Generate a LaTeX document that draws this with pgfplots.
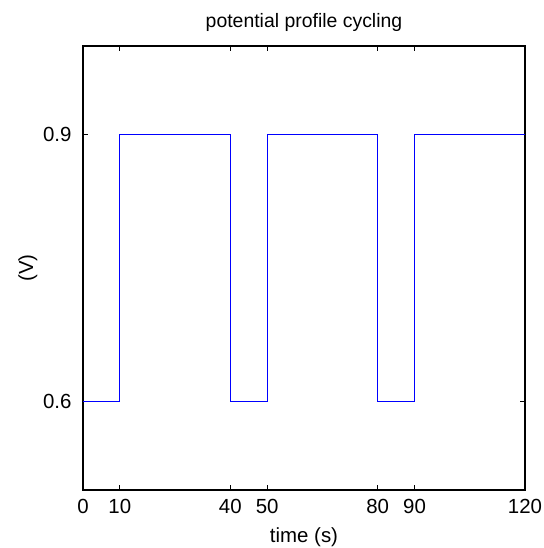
\documentclass[border=0pt]{standalone}
\usepackage{pgfplots}
\pgfplotsset{compat=1.18}
\usepackage{fontspec}
\setmainfont{Liberation Sans}
\begin{document}
\begin{tikzpicture}[x=1bp,y=1bp]
\path[use as bounding box] (0,0) rectangle (544,548);
\begin{axis}[
  at={(83bp,58bp)}, anchor=south west,
  scale only axis, width=442bp, height=444bp,
  xmin=0, xmax=120, ymin=0.5, ymax=1.0,
  xtick={0,10,40,50,80,90,120},
  ytick={0.6,0.9},
  yticklabels={0.6,0.9},
  tick align=inside, major tick length=5bp,
  tick style={black, line width=0.8pt},
  axis line style={black, line width=1.2pt},
  /pgf/number format/assume math mode=true,
  ticklabel style={font=\fontsize{20.5}{24}\selectfont},
  xticklabel style={yshift=-6bp},
  yticklabel style={xshift=-8bp},
  label style={font=\fontsize{20.5}{24}\selectfont},
  title style={font=\fontsize{19.5}{23}\selectfont, yshift=5bp},
  title={potential profile cycling},
  xlabel={time (s)},
  ylabel={(V)},
  xlabel style={yshift=-7bp},
  ylabel style={yshift=-1bp},
]
\addplot[color={rgb,255:red,0;green,0;blue,255}, line width=0.9pt, const plot] coordinates {
(0,0.6) (10,0.9) (40,0.6) (50,0.9) (80,0.6) (90,0.9) (120,0.9)
};
\end{axis}
\end{tikzpicture}
\end{document}
